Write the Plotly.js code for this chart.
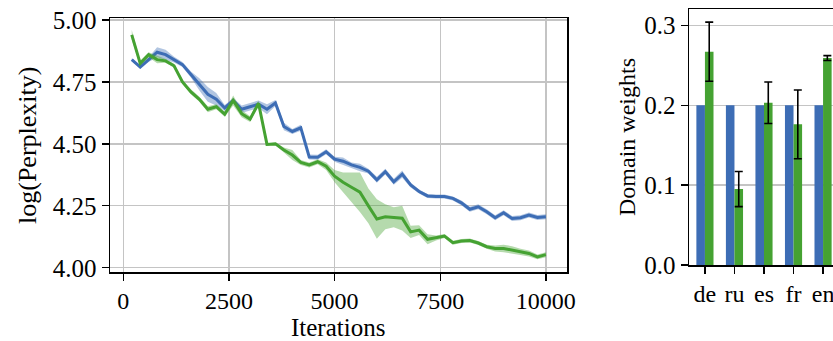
<!DOCTYPE html>
<html><head><meta charset="utf-8">
<script src="https://cdn.plot.ly/plotly-3.0.1.min.js"></script>
<style>html,body{margin:0;padding:0;overflow:hidden;width:833px;height:341px;background:#fff}#plot{width:845px;height:341px}</style>
</head><body><div id="plot"></div>
<script>
// ---- data: left panel (log perplexity vs iterations) ----
const iterations = [200,400,600,800,1000,1200,1400,1600,1800,2000,2200,2400,2600,2800,3000,3200,3400,3600,3800,4000,4200,4400,4600,4800,5000,5200,5400,5600,5800,6000,6200,6400,6600,6800,7000,7200,7400,7600,7800,8000,8200,8400,8600,8800,9000,9200,9400,9600,9800,10000];
const baselineMean = [4.84,4.81,4.84,4.87,4.86,4.84,4.82,4.78,4.74,4.70,4.68,4.645,4.675,4.64,4.65,4.66,4.64,4.665,4.57,4.55,4.565,4.447,4.446,4.468,4.438,4.43,4.415,4.405,4.39,4.355,4.388,4.347,4.378,4.334,4.308,4.29,4.288,4.288,4.28,4.262,4.236,4.246,4.226,4.202,4.222,4.199,4.202,4.213,4.203,4.206];
const baselineStd = [0.005,0.008,0.01,0.02,0.02,0.012,0.01,0.012,0.025,0.03,0.025,0.012,0.01,0.015,0.015,0.015,0.02,0.012,0.015,0.01,0.012,0.01,0.01,0.01,0.01,0.015,0.01,0.015,0.01,0.012,0.012,0.012,0.015,0.01,0.008,0.008,0.008,0.008,0.008,0.01,0.01,0.01,0.01,0.01,0.01,0.01,0.01,0.01,0.01,0.01];
const optimizedMean = [4.94,4.825,4.86,4.84,4.835,4.815,4.75,4.71,4.68,4.64,4.65,4.62,4.675,4.622,4.60,4.664,4.498,4.50,4.475,4.455,4.425,4.415,4.428,4.41,4.37,4.345,4.325,4.305,4.25,4.197,4.206,4.204,4.20,4.145,4.152,4.115,4.12,4.128,4.101,4.108,4.11,4.10,4.085,4.078,4.078,4.072,4.065,4.058,4.044,4.053];
const optimizedStd = [0.02,0.01,0.01,0.015,0.008,0.008,0.008,0.01,0.01,0.012,0.01,0.01,0.02,0.015,0.012,0.01,0.005,0.005,0.01,0.02,0.01,0.01,0.01,0.015,0.025,0.04,0.06,0.08,0.07,0.08,0.05,0.04,0.05,0.025,0.02,0.02,0.01,0.008,0.008,0.008,0.008,0.008,0.008,0.012,0.015,0.015,0.012,0.012,0.01,0.01];
const xTicks = [0,2500,5000,7500,10000];
const yTicks = [4.00,4.25,4.50,4.75,5.00];

// ---- data: right panel (domain weights) ----
const domains = ['de','ru','es','fr','en'];
const uniformWeights = [0.2,0.2,0.2,0.2,0.2];
const learnedWeights = [0.267,0.095,0.203,0.176,0.259];
const learnedErr = [0.037,0.022,0.026,0.043,0.003];
const weightTicks = [0.0,0.1,0.2,0.3];

// ---- styles ----
const BLUE = '#3d6db5', GREEN = '#45a232';
const BLUE_FILL = 'rgba(61,109,181,0.40)', GREEN_FILL = 'rgba(69,162,50,0.40)';
const FONT = 'Liberation Serif';
const W = 845, H = 341;

function band(mean, std, color, fill) {
  const lo = mean.map((m,i)=>m-std[i]);
  const hi = mean.map((m,i)=>m+std[i]);
  return [
    {x: iterations, y: lo, mode:'lines', line:{width:0, color:color}, hoverinfo:'skip', showlegend:false, xaxis:'x', yaxis:'y'},
    {x: iterations, y: hi, mode:'lines', line:{width:0, color:color}, fill:'tonexty', fillcolor:fill, hoverinfo:'skip', showlegend:false, xaxis:'x', yaxis:'y'},
    {x: iterations, y: mean, mode:'lines', line:{width:3, color:color}, showlegend:false, xaxis:'x', yaxis:'y'}
  ];
}

const traces = [
  ...band(baselineMean, baselineStd, BLUE, BLUE_FILL),
  ...band(optimizedMean, optimizedStd, GREEN, GREEN_FILL),
  {type:'bar', x: domains, y: uniformWeights, marker:{color:BLUE}, xaxis:'x2', yaxis:'y2', showlegend:false},
  {type:'bar', x: domains, y: learnedWeights, marker:{color:GREEN}, xaxis:'x2', yaxis:'y2', showlegend:false,
   error_y:{type:'data', array: learnedErr, visible:true, color:'#000', thickness:1.6, width:4}}
];

function axisCommon(size) {
  return {
    showline:true, linecolor:'#000', linewidth:1.5, mirror:true,
    ticks:'outside', ticklen:7, tickwidth:1.3, tickcolor:'#000',
    tickfont:{family:FONT, size:size, color:'#000'}, tickangle:0,
    zeroline:false, gridcolor:'#c4c4c4', gridwidth:1.3
  };
}

const layout = {
  width: W, height: H,
  margin:{l:0,r:0,t:0,b:0},
  paper_bgcolor:'#fff', plot_bgcolor:'#fff',
  barmode:'group', bargap:0.42, bargroupgap:0,
  font:{family:FONT, color:'#000', size:24},
  xaxis: Object.assign(axisCommon(24), {
    domain:[110/W, 567/W], range:[-315, 10500],
    tickmode:'array', tickvals: xTicks, ticktext: xTicks.map(String),
    showgrid:true, anchor:'y'
  }),
  yaxis: Object.assign(axisCommon(25), {
    domain:[1-272/H, 1-18/H], range:[3.983, 5.008],
    tickmode:'array', tickvals: yTicks, ticktext: yTicks.map(v=>v.toFixed(2)),
    showgrid:true, anchor:'x'
  }),
  xaxis2: Object.assign(axisCommon(24), {
    domain:[689/W, 839/W], range:[-0.54, 4.54],
    tickmode:'array', tickvals: domains, ticktext: domains,
    showgrid:false, anchor:'y2', type:'category'
  }),
  yaxis2: Object.assign(axisCommon(25), {
    domain:[1-265/H, 1-9.3/H], range:[0, 0.32],
    tickmode:'array', tickvals: weightTicks, ticktext: weightTicks.map(v=>v.toFixed(1)),
    showgrid:true, anchor:'x2'
  }),
  annotations: [
    {text:'log(Perplexity)', xref:'paper', yref:'paper', x:27/W, y:1-146/H, textangle:-90, showarrow:false, xanchor:'center', yanchor:'middle', font:{family:FONT, size:26, color:'#000'}},
    {text:'Iterations', xref:'paper', yref:'paper', x:338/W, y:1-327/H, showarrow:false, xanchor:'center', yanchor:'middle', font:{family:FONT, size:25, color:'#000'}},
    {text:'Domain weights', xref:'paper', yref:'paper', x:627/W, y:1-137/H, textangle:-90, showarrow:false, xanchor:'center', yanchor:'middle', font:{family:FONT, size:24, color:'#000'}}
  ]
};

Plotly.newPlot('plot', traces, layout, {staticPlot:true, displayModeBar:false});
</script>
</body></html>
